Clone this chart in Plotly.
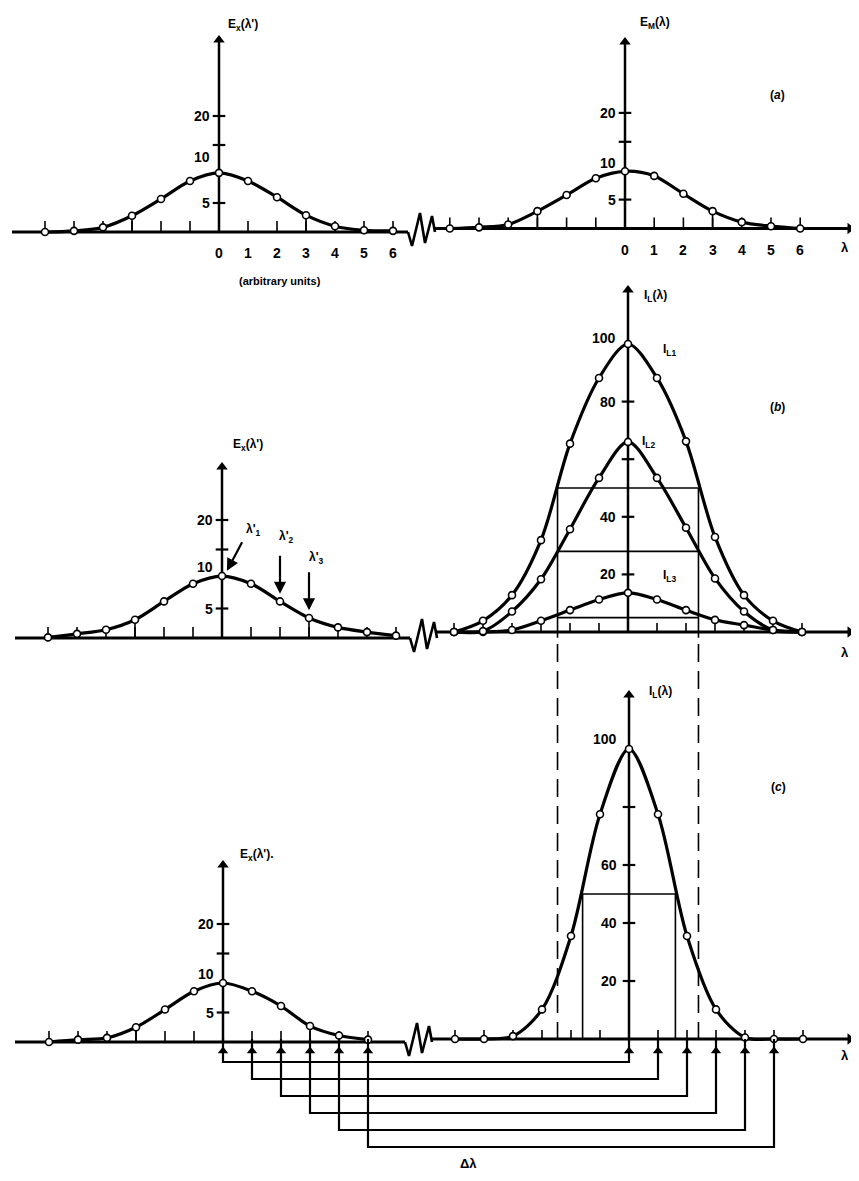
import plotly.graph_objects as go

W, H = 859, 1181          # browser window
OFF = 8                   # default page margin around the plot div
FW, FH = W - 2 * OFF, H - 2 * OFF

# ---- data ---------------------------------------------------------------
lam = list(range(-6, 7))            # lambda / lambda' positions (arbitrary units)
lam_c_left = list(range(-6, 6))

ex_a = [0.0, 0.2, 0.8, 2.8, 5.7, 8.8, 10.2, 8.8, 6.0, 2.9, 1.0, 0.3, 0.2]   # E_x(l') panel a
em_a = [0.0, 0.2, 0.7, 3.0, 5.8, 8.7, 9.9, 9.1, 6.0, 3.0, 1.1, 0.4, 0.0]    # E_M(l) panel a
ex_b = [0.1, 0.7, 1.4, 3.1, 6.2, 9.2, 10.5, 9.2, 6.2, 3.4, 1.8, 1.0, 0.4]   # E_x(l') panel b
i_l1 = [0.0, 3.9, 12.8, 31.9, 65.4, 88.2, 100.0, 88.2, 66.2, 33.0, 12.8, 3.9, 0.0]
i_l2 = [0.0, 0.3, 7.1, 18.3, 35.7, 53.5, 66.0, 53.5, 36.2, 18.6, 7.1, 0.7, 0.0]
i_l3 = [0.0, 0.0, 0.7, 3.9, 7.6, 11.3, 13.6, 11.3, 7.6, 4.2, 2.4, 0.7, 0.0]
ex_c = [0.0, 0.4, 0.7, 2.5, 5.5, 8.6, 10.0, 8.6, 6.1, 2.7, 1.1, 0.4]        # E_x(l') panel c
i_c = [0.0, 0.0, 1.0, 10.2, 35.5, 77.5, 100.0, 77.5, 35.5, 10.2, 0.5, 0.0, 0.0]

x_ticklabels = ["0", "1", "2", "3", "4", "5", "6"]
e_ticks = [5, 15, 20]
e_labels = [5, 10, 20]
b_ticks = [20, 40, 60, 80]
b_labels = [20, 40, 80, 100]
c_ticks = [20, 40, 60, 80]
c_labels = [20, 40, 60, 100]

b_half_lam = [-2.43, 2.43]          # half-maximum width of I_L1
b_levels = [50, 28, 5]              # I_L1, I_L2, I_L3 at those wavelengths
c_half_lam = [-1.6, 1.6]
c_level = 50
arrow_lam = [0, 2, 3]               # lambda'_1, lambda'_2, lambda'_3
shift_lam = [0, 1, 2, 3, 4, 5]      # delta-lambda steps

# ---- panel geometry: window-pixel origin and pixels per unit -------------
P = {
    "aL": dict(i=1, x0=219, ux=29.0, y0=232, uy=5.8),
    "aR": dict(i=2, x0=625, ux=29.2, y0=228.5, uy=5.78),
    "bL": dict(i=3, x0=222, ux=29.0, y0=638, uy=5.9),
    "bR": dict(i=4, x0=628, ux=29.0, y0=632, uy=2.88),
    "cL": dict(i=5, x0=223, ux=29.0, y0=1042, uy=5.9),
    "cR": dict(i=6, x0=629, ux=29.0, y0=1039, uy=2.9),
}


def ref(p):
    i = p["i"]
    return ("x", "y") if i == 1 else (f"x{i}", f"y{i}")


def ux(p, px):
    return (px - p["x0"]) / p["ux"]


def uy(p, py):
    return (p["y0"] - py) / p["uy"]


fig = go.Figure()
FONT = dict(family="Liberation Sans, Arial", size=14, color="black", weight="bold")


def line(p, xs, ys, width=2.5, dash=None):
    xa, ya = ref(p)
    fig.add_trace(go.Scatter(x=xs, y=ys, mode="lines", xaxis=xa, yaxis=ya,
                             line=dict(color="black", width=width, dash=dash),
                             hoverinfo="skip"))


def marks(p, xs, ys, symbol, size=9, lw=0):
    xa, ya = ref(p)
    fig.add_trace(go.Scatter(x=xs, y=ys, mode="markers", xaxis=xa, yaxis=ya, cliponaxis=False,
                             marker=dict(symbol=symbol, size=size, color="black",
                                         line=dict(color="black", width=lw)),
                             hoverinfo="skip"))


def curve(p, xs, ys):
    xa, ya = ref(p)
    fig.add_trace(go.Scatter(x=xs, y=ys, mode="lines+markers", xaxis=xa, yaxis=ya, cliponaxis=False,
                             line=dict(color="black", width=3.2, shape="spline", smoothing=0.9),
                             marker=dict(symbol="circle", size=7, color="white",
                                         line=dict(color="black", width=1.6)),
                             hoverinfo="skip"))


def ticks_x(p, xs, h_px=10):
    tx, ty = [], []
    for k in xs:
        tx += [k, k, None]
        ty += [0, h_px / p["uy"], None]
    line(p, tx, ty, width=1.6)


def drops(p, xs, vals):
    tx, ty = [], []
    for k, v in zip(xs, vals):
        tx += [k, k, None]
        ty += [0, v, None]
    line(p, tx, ty, width=1.6)


def yaxis_line(p, top_px, tickvals):
    top = uy(p, top_px)
    line(p, [0, 0], [0, top], width=2.5)
    marks(p, [0], [top], "triangle-up", size=10)
    marks(p, [0] * len(tickvals), tickvals, "line-ew", size=9, lw=2.2)


def xaxis_line(p, start_px, end_px, arrow=False):
    line(p, [ux(p, start_px), ux(p, end_px)], [0, 0], width=2.8)
    if arrow:
        marks(p, [ux(p, end_px)], [0], "triangle-right", size=10)


ZIG_DX = [0, 4, 12, 17, 24, 27]
ZIG_DY = [0, 14, -19, 11, -16, 0]


def zigzag(p, start_px):
    line(p, [ux(p, start_px + d) for d in ZIG_DX], [-d / p["uy"] for d in ZIG_DY], width=2.6)


annotations = []


def ylabels(p, vals, xshift=-7, special=None):
    xa, ya = ref(p)
    for v in vals:
        ys = (special or {}).get(v, 0)
        annotations.append(dict(x=0, y=v, xref=xa, yref=ya, text=str(v), showarrow=False,
                                xanchor="right", yanchor="middle", xshift=xshift, yshift=ys,
                                font=FONT))


def xlabels(p):
    xa, ya = ref(p)
    for k, t in enumerate(x_ticklabels):
        annotations.append(dict(x=k, y=0, xref=xa, yref=ya, text=t, showarrow=False,
                                xanchor="center", yanchor="middle", yshift=-21, font=FONT))


def ptext(px, py, text, size=13, anchor="center"):
    annotations.append(dict(x=(px - OFF) / FW, y=1 - (py - OFF) / FH, xref="paper", yref="paper",
                            text=text, showarrow=False, xanchor=anchor, yanchor="middle",
                            font=dict(FONT, size=size)))


# ---- panel (a) ------------------------------------------------------------
p = P["aL"]
xaxis_line(p, 12, 408)
zigzag(p, 408)
ticks_x(p, lam, 11)
drops(p, [-3, 3], [ex_a[3], ex_a[9]])
yaxis_line(p, 40, e_ticks)
curve(p, lam, ex_a)
ylabels(p, e_labels, special={10: 17})
xlabels(p)

p = P["aR"]
xaxis_line(p, 435, 850, arrow=True)
ticks_x(p, lam, 11)
drops(p, [-3, 3], [em_a[3], em_a[9]])
yaxis_line(p, 42, e_ticks)
curve(p, lam, em_a)
ylabels(p, e_labels, special={10: 8})
xlabels(p)

# ---- panel (b) ------------------------------------------------------------
p = P["bL"]
xaxis_line(p, 15, 410)
zigzag(p, 410)
ticks_x(p, lam, 11)
drops(p, [-3, 3], [ex_b[3], ex_b[9]])
yaxis_line(p, 467, e_ticks)
curve(p, lam, ex_b)
ylabels(p, e_labels, special={10: 12})
xa, ya = ref(p)
for n, k in enumerate(arrow_lam):
    v = ex_b[lam.index(k)]
    if n == 0:
        hx, hy, tx, ty = k + 0.17, v + 0.9, k + 0.72, v + 6.0
    else:
        hx, hy, tx, ty = k, v + 1.3, k, v + 8.0
    annotations.append(dict(x=hx, y=hy, ax=tx, ay=ty, xref=xa, yref=ya, axref=xa, ayref=ya,
                            text="", showarrow=True, arrowhead=2, arrowsize=1.1,
                            arrowwidth=2.2, arrowcolor="black"))

p = P["bR"]
xaxis_line(p, 435, 850, arrow=True)
ticks_x(p, lam, 9)
yaxis_line(p, 290, b_ticks)
hx, hy = [], []
for lv in b_levels:
    hx += [b_half_lam[0], b_half_lam[1], None]
    hy += [lv, lv, None]
line(p, hx, hy, width=1.6)
for h in b_half_lam:
    line(p, [h, h], [b_levels[0], -2], width=1.6)
curve(p, lam, i_l3)
curve(p, lam, i_l2)
curve(p, lam, i_l1)
ylabels(p, b_labels, xshift=-10, special={100: 6})

# ---- panel (c) ------------------------------------------------------------
p = P["cL"]
xaxis_line(p, 15, 405)
zigzag(p, 405)
ticks_x(p, lam_c_left, 11)
drops(p, [-3, 3], [ex_c[3], ex_c[9]])
yaxis_line(p, 865, e_ticks)
curve(p, lam_c_left, ex_c)
ylabels(p, e_labels, special={10: 9})

p = P["cR"]
pl = P["cL"]
xaxis_line(p, 432, 850, arrow=True)
ticks_x(p, lam, 9)
yaxis_line(p, 695, c_ticks)
line(p, [c_half_lam[0], c_half_lam[1]], [c_level, c_level], width=1.6)
for h in c_half_lam:
    line(p, [h, h], [0, c_level], width=1.6)
# dashed lines carried down from panel (b)
pb = P["bR"]
for h in b_half_lam:
    xh = ux(p, pb["x0"] + pb["ux"] * h)
    line(p, [xh, xh], [uy(p, 644), 0], width=1.6, dash="18px,9px")
curve(p, lam, i_c)
ylabels(p, c_labels, xshift=-10, special={100: 10})

# delta-lambda brackets joining lambda'_k (left) to lambda_k (right)
bx, by, ax_l, ax_r = [], [], [], []
for n, k in enumerate(shift_lam):
    xl = ux(p, pl["x0"] + pl["ux"] * k)
    lv = uy(p, 1062 + 17 * n)
    bx += [xl, xl, k, k, None]
    by += [0, lv, lv, 0, None]
    ax_l.append(xl)
    ax_r.append(k)
line(p, bx, by, width=2.2)
marks(p, ax_l + ax_r, [uy(p, 1051)] * (len(ax_l) + len(ax_r)), "triangle-up", size=9)

# ---- free text -------------------------------------------------------------
ptext(243, 25, "E<sub>x</sub>(λ')", 12)
ptext(655, 23, "E<sub>M</sub>(λ)", 12)
ptext(777, 95, "(<i>a</i>)", 12)
ptext(280, 281, "(arbitrary units)", 11)
ptext(W - OFF, 247, "λ", 13, anchor="right")
ptext(655, 296, "I<sub>L</sub>(λ)", 12)
ptext(669, 350, "I<sub>L1</sub>", 12)
ptext(777, 407, "(<i>b</i>)", 12)
ptext(648, 442, "I<sub>L2</sub>", 12)
ptext(669, 576, "I<sub>L3</sub>", 12)
ptext(248, 445, "E<sub>x</sub>(λ')", 12)
ptext(253, 530, "λ'<sub>1</sub>", 12)
ptext(286, 537, "λ'<sub>2</sub>", 12)
ptext(316, 558, "λ'<sub>3</sub>", 12)
ptext(W - OFF, 652, "λ", 13, anchor="right")
ptext(660, 692, "I<sub>L</sub>(λ)", 12)
ptext(778, 787, "(<i>c</i>)", 12)
ptext(257, 855, "E<sub>x</sub>(λ').", 12)
ptext(W - OFF, 1055, "λ", 13, anchor="right")
ptext(468, 1163, "Δλ", 13)

layout = dict(width=FW, height=FH, margin=dict(l=0, r=0, t=0, b=0), showlegend=False,
              paper_bgcolor="white", plot_bgcolor="rgba(0,0,0,0)", annotations=annotations)
for p in P.values():
    i = p["i"]
    s = "" if i == 1 else str(i)
    x0, y0 = p["x0"] - OFF, p["y0"] - OFF
    layout["xaxis" + s] = dict(domain=[0, 1], range=[-x0 / p["ux"], (FW - x0) / p["ux"]],
                               visible=False, fixedrange=True, anchor="y" + s)
    layout["yaxis" + s] = dict(domain=[0, 1], range=[(y0 - FH) / p["uy"], y0 / p["uy"]],
                               visible=False, fixedrange=True, anchor="x" + s)
fig.update_layout(**layout)

fig.write_html("out.html")
